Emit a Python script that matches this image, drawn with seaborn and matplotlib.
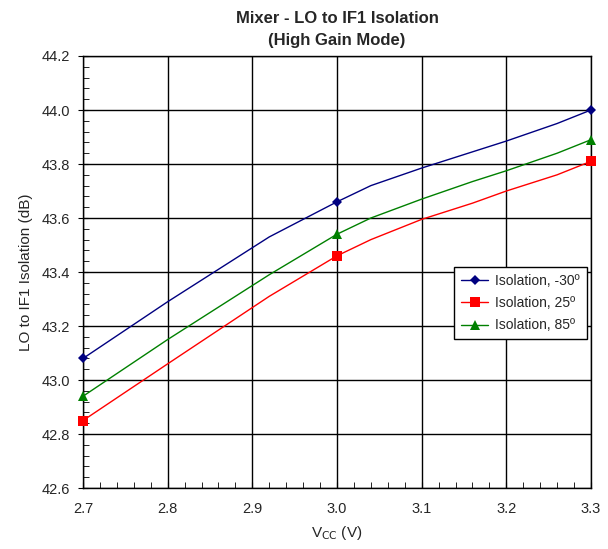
import matplotlib
matplotlib.use("Agg")
import matplotlib.pyplot as plt
import seaborn as sns
from matplotlib.ticker import MultipleLocator

# supply voltage (V) and measured isolation (dB)
vcc = [2.7, 2.8, 2.92, 3.0, 3.04, 3.1, 3.16, 3.2, 3.26, 3.3]
iso_m30 = [43.08, 43.29, 43.53, 43.66, 43.72, 43.785, 43.845, 43.885, 43.95, 44.00]
iso_25 = [42.85, 43.06, 43.31, 43.46, 43.52, 43.595, 43.655, 43.70, 43.76, 43.81]
iso_85 = [42.94, 43.15, 43.39, 43.54, 43.60, 43.67, 43.735, 43.775, 43.84, 43.89]
labels = ["Isolation, -30º", "Isolation, 25º", "Isolation, 85º"]
# only the 2.7 / 3.0 / 3.3 points carry markers
marked = [0, 3, 9]

sns.set_style("ticks")
plt.rcParams['font.family'] = ['Liberation Sans', 'DejaVu Sans']

fig = plt.figure(figsize=(6.08, 5.49), dpi=100)
ax = fig.add_axes([0.1365, 0.111, 0.8355, 0.787])

series = [
    (iso_m30, "#000080", "D", 5),
    (iso_25, "#ff0000", "s", 7),
    (iso_85, "#008000", "^", 7),
]
for (vals, col, mk, ms), lab in zip(series, labels):
    sns.lineplot(x=vcc, y=vals, ax=ax, color=col, marker=mk, markersize=ms,
                 markevery=marked, linewidth=1, markeredgewidth=0, label=lab,
                 clip_on=False, zorder=3)

ax.set_xlim(2.7, 3.3)
ax.set_ylim(42.6, 44.2)
ax.xaxis.set_major_locator(MultipleLocator(0.1))
ax.xaxis.set_minor_locator(MultipleLocator(0.02))
ax.yaxis.set_major_locator(MultipleLocator(0.2))
ax.yaxis.set_minor_locator(MultipleLocator(0.04))
ax.xaxis.set_major_formatter(plt.FuncFormatter(lambda v, p: f"{v:.1f}"))
ax.yaxis.set_major_formatter(plt.FuncFormatter(lambda v, p: f"{v:.1f}"))
ax.tick_params(axis='x', which='major', direction='in', length=4, pad=10,
               color='black', labelsize=10.5)
ax.tick_params(axis='y', which='major', direction='inout', length=7, pad=6,
               color='black', labelsize=10.5)
ax.tick_params(which='minor', direction='in', length=4, color='black')
ax.grid(True, which='major', color='black', linewidth=1)
for s in ax.spines.values():
    s.set_color('black')
    s.set_linewidth(1)

ax.set_title("Mixer - LO to IF1 Isolation\n(High Gain Mode)", fontsize=12,
             fontweight='bold', pad=8, linespacing=1.6)
ax.set_xlabel("V$_{\\rm CC}$ (V)", fontsize=11, labelpad=6)
ax.set_ylabel("LO to IF1 Isolation (dB)", fontsize=11, labelpad=6)

leg = ax.legend(loc='upper right', bbox_to_anchor=(0.992, 0.512), fontsize=10,
                frameon=True, fancybox=False, framealpha=1, edgecolor='black',
                handlelength=2.0, handletextpad=0.5, borderpad=0.5,
                labelspacing=0.6, borderaxespad=0)
leg.get_frame().set_linewidth(1)

fig.savefig("out.png", dpi=100)
